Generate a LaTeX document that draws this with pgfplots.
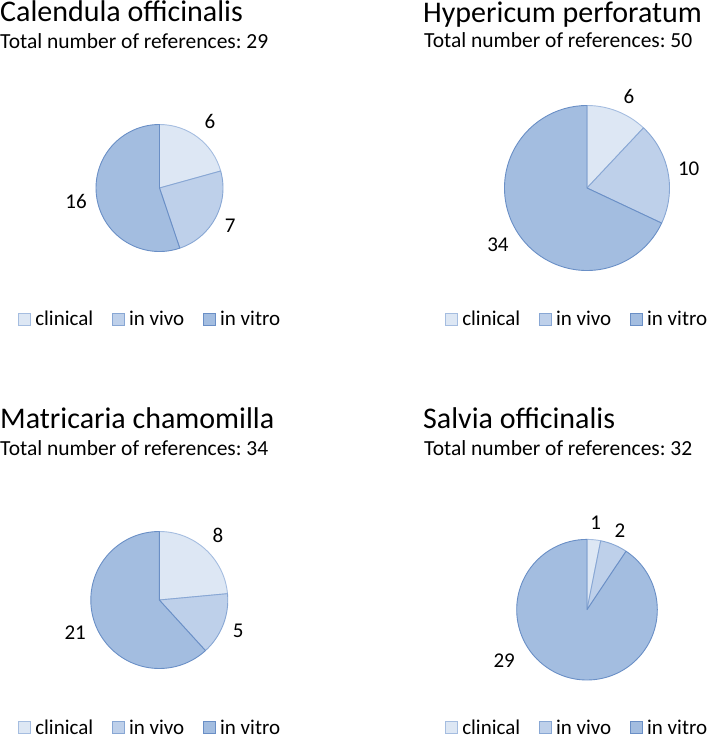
\documentclass[border=0pt]{standalone}
\usepackage{pgfplots}
\pgfplotsset{compat=1.18}
\usepackage{pgfplotstable}
\usepackage{fontspec}
\setmainfont{Carlito}
\frenchspacing

\definecolor{clinicalfill}{HTML}{DDE7F4}
\definecolor{clinicaledge}{HTML}{A5BDE0}
\definecolor{vivofill}{HTML}{BED0EA}
\definecolor{vivoedge}{HTML}{88A7D4}
\definecolor{vitrofill}{HTML}{A3BDE0}
\definecolor{vitroedge}{HTML}{6A8FC6}

\newcommand\titlefont{\fontsize{30bp}{34bp}\selectfont}
\newcommand\subfont{\fontsize{21.5bp}{25bp}\selectfont}
\newcommand\lblfont{\fontsize{21bp}{24bp}\selectfont}
\newcommand\legfont{\fontsize{21bp}{24bp}\selectfont}

% value, label angle shift (deg) and label gap (bp)
\pgfplotstableread{
type value ashift gap
clinical 6 0 9
vivo 7 0 9
vitro 16 0 9
}\calendula
\pgfplotstableread{
type value ashift gap
clinical 6 -3 9
vivo 10 0 9
vitro 34 0 9
}\hypericum
\pgfplotstableread{
type value ashift gap
clinical 8 0 9
vivo 5 0 9
vitro 21 0 9
}\matricaria
\pgfplotstableread{
type value ashift gap
clinical 1 0 9
vivo 2 0 7
vitro 29 -41.5 13
}\salvia

\newcommand\drawpie[4]{%
  \pgfplotstablegetrowsof{#1}%
  \pgfmathtruncatemacro\pielast{\pgfplotsretval-1}%
  \gdef\pietotal{0}%
  \foreach \i in {0,...,\pielast}{%
    \pgfplotstablegetelem{\i}{value}\of{#1}%
    \pgfmathsetmacro\pietmp{\pietotal+\pgfplotsretval}%
    \xdef\pietotal{\pietmp}}%
  \gdef\piecum{0}%
  \foreach \i in {0,...,\pielast}{%
    \pgfplotstablegetelem{\i}{value}\of{#1}\let\pieV\pgfplotsretval
    \pgfplotstablegetelem{\i}{type}\of{#1}\let\pieC\pgfplotsretval
    \pgfplotstablegetelem{\i}{ashift}\of{#1}\let\pieS\pgfplotsretval
    \pgfplotstablegetelem{\i}{gap}\of{#1}\let\pieG\pgfplotsretval
    \pgfmathsetmacro\pieA{90-(\piecum/\pietotal)*360}%
    \pgfmathsetmacro\pieB{90-((\piecum+\pieV)/\pietotal)*360}%
    \pgfmathsetmacro\pieM{(\pieA+\pieB)/2+\pieS}%
    \pgfmathsetmacro\pieAn{mod(\pieM+540,360)}%
    \pgfmathsetmacro\pieLx{#2+(#4+\pieG)*cos(\pieM)}%
    \pgfmathsetmacro\pieLy{#3+(#4+\pieG)*sin(\pieM)}%
    \filldraw[fill=\pieC fill, draw=\pieC edge, line width=0.9bp, line join=round]
      (axis cs:#2,#3) -- ++(\pieA:#4bp) arc[start angle=\pieA, end angle=\pieB, radius=#4bp] -- cycle;
    \node[font=\lblfont, inner sep=1bp, anchor=\pieAn] at (axis cs:\pieLx,\pieLy) {\pieV};
    \pgfmathsetmacro\pietmp{\piecum+\pieV}\xdef\piecum{\pietmp}%
  }%
}

\pgfplotsset{
  panel/.style={
    x=1bp, y=1bp, xmin=0, xmax=709, ymin=-739, ymax=0,
    hide axis, clip=false, at={(0,0)}, anchor=south west,
    legend columns=3, legend cell align=left,
    legend image code/.code={\draw[line width=0.8bp,##1] (0bp,-6bp) rectangle (12bp,6bp);},
    legend style={draw=none, fill=none, inner sep=0pt, outer sep=0pt,
      font=\legfont, anchor=west, nodes={inner sep=0pt, text height=13bp, text depth=0pt},
      /tikz/every odd column/.append style={column sep=4.5bp},
      /tikz/every even column/.append style={column sep=18.5bp}},
  },
}

\newcommand\legendimages{%
  \addlegendimage{fill=clinicalfill, draw=clinicaledge}
  \addlegendimage{fill=vivofill, draw=vivoedge}
  \addlegendimage{fill=vitrofill, draw=vitroedge}
  \legend{clinical, in vivo, in vitro}%
}

\begin{document}
\begin{tikzpicture}
\useasboundingbox (0,0) rectangle (709bp,739bp);

% Calendula
\begin{axis}[panel, legend style={at={(axis cs:18,-319.5)}}]
  \legendimages
  \node[anchor=base west, inner sep=0pt, font=\titlefont] at (axis cs:0,-22) {Calendula officinalis};
  \node[anchor=base west, inner sep=0pt, font=\subfont] at (axis cs:0,-49) {Total number of references: 29};
  \pgfplotsextra{\drawpie{\calendula}{159.5}{-188}{63.5}}
\end{axis}

% Hypericum
\begin{axis}[panel, legend style={at={(axis cs:445,-319.5)}}]
  \legendimages
  \node[anchor=base west, inner sep=0pt, font=\titlefont] at (axis cs:423,-22.5) {Hypericum perforatum};
  \node[anchor=base west, inner sep=0pt, font=\subfont] at (axis cs:424,-48) {Total number of references: 50};
  \pgfplotsextra{\drawpie{\hypericum}{587}{-188}{82.5}}
\end{axis}

% Matricaria
\begin{axis}[panel, legend style={at={(axis cs:18,-727.5)}}]
  \legendimages
  \node[anchor=base west, inner sep=0pt, font=\titlefont] at (axis cs:0,-428) {Matricaria chamomilla};
  \node[anchor=base west, inner sep=0pt, font=\subfont] at (axis cs:0,-455) {Total number of references: 34};
  \pgfplotsextra{\drawpie{\matricaria}{159.3}{-600}{68.5}}
\end{axis}

% Salvia
\begin{axis}[panel, legend style={at={(axis cs:445,-727.5)}}]
  \legendimages
  \node[anchor=base west, inner sep=0pt, font=\titlefont] at (axis cs:423,-428) {Salvia officinalis};
  \node[anchor=base west, inner sep=0pt, font=\subfont] at (axis cs:424,-455) {Total number of references: 32};
  \pgfplotsextra{\drawpie{\salvia}{587}{-609.7}{70.3}}
\end{axis}
\end{tikzpicture}
\end{document}
